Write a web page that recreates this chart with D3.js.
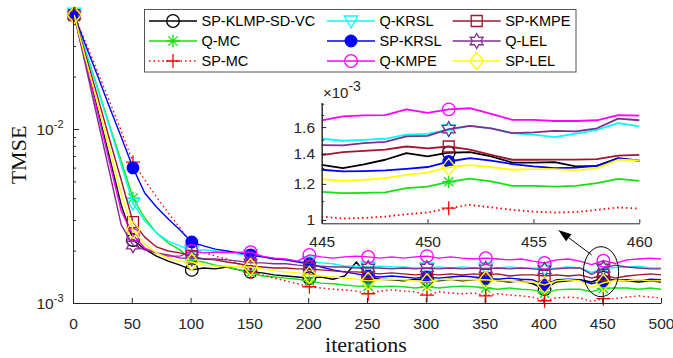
<!DOCTYPE html>
<html><head><meta charset="utf-8">
<script src="https://cdn.jsdelivr.net/npm/d3@7/dist/d3.min.js"></script>
<style>body{margin:0;background:#fff}</style>
</head><body>
<svg id="c" width="673" height="358"></svg>
<script>
// ---------------- DATA (TMSE values in units of 1e-3) ----------------
const iters = [1,11,21,31,41,51,61,71,81,91,101,111,121,131,141,151,161,171,181,191,201,211,221,231,241,251,261,271,281,291,301,311,321,331,341,351,361,371,381,391,401,411,421,431,441,451,461,471,481,491,500];
const markerIters = [1,51,101,151,201,251,301,351,401,451];
const seriesNames = ["SP-KLMP-SD-VC","Q-MC","SP-MC","Q-KRSL","SP-KRSL","Q-KMPE","SP-KMPE","Q-LEL","SP-LEL"];

const tmseSPKLMP = [45.2,24.3,12.9,6.90,3.66,2.30,2.04,1.86,1.74,1.65,
 1.55,1.59,1.57,1.61,1.55,1.51,1.49,1.45,1.43,1.41,
 1.39,1.41,1.37,1.43,1.72,1.41,1.37,1.36,1.34,1.37,
 1.36,1.34,1.37,1.34,1.36,1.39,1.34,1.32,1.34,1.29,
 1.20,1.32,1.34,1.36,1.32,1.405,1.35,1.34,1.32,1.34,1.32];
const tmseQMC = [45.2,27.7,17.2,10.5,6.55,4.01,3.08,2.53,2.21,2.02,
 1.76,1.72,1.65,1.61,1.55,1.49,1.43,1.41,1.39,1.37,
 1.34,1.30,1.29,1.27,1.25,1.25,1.24,1.25,1.24,1.22,
 1.24,1.22,1.24,1.25,1.24,1.22,1.20,1.22,1.20,1.19,
 1.14,1.19,1.20,1.20,1.16,1.213,1.22,1.22,1.20,1.22,1.20];
const tmseSPMC = [45.2,31.2,21.3,14.5,9.74,6.45,5.09,4.07,3.29,2.70,
 2.15,1.96,1.86,1.79,1.68,1.51,1.45,1.39,1.34,1.29,
 1.24,1.22,1.20,1.19,1.17,1.13,1.17,1.19,1.17,1.16,
 1.11,1.16,1.14,1.13,1.14,1.10,1.13,1.11,1.10,1.08,
 1.03,1.07,1.08,1.07,1.02,1.061,1.06,1.08,1.10,1.08,1.07];
const tmseQKRSL = [46.4,27.7,16.8,10.3,6.21,3.75,2.96,2.53,2.27,2.13,
 1.99,2.02,1.99,1.96,1.91,1.89,1.84,1.81,1.77,1.74,
 1.72,1.70,1.68,1.63,1.63,1.61,1.63,1.61,1.61,1.59,
 1.59,1.61,1.59,1.61,1.59,1.59,1.59,1.61,1.59,1.59,
 1.57,1.59,1.61,1.59,1.50,1.578,1.60,1.61,1.63,1.59,1.59];
const tmseSPKRSL = [45.2,30.0,20.2,13.4,8.99,5.98,4.29,3.56,3.04,2.63,
 2.24,2.13,2.04,1.99,1.94,1.89,1.84,1.79,1.77,1.72,
 1.68,1.61,1.55,1.51,1.47,1.43,1.41,1.43,1.41,1.39,
 1.41,1.39,1.41,1.43,1.41,1.39,1.37,1.39,1.37,1.36,
 1.27,1.36,1.37,1.36,1.29,1.344,1.35,1.36,1.34,1.37,1.36];
const tmseQKMPE = [45.2,23.6,12.4,6.45,3.38,2.46,2.07,1.94,1.86,1.86,
 1.99,1.94,1.96,1.94,1.96,1.96,1.86,1.81,1.79,1.74,
 1.89,1.84,1.81,1.84,1.86,1.84,1.81,1.84,1.81,1.84,
 1.86,1.81,1.84,1.81,1.79,1.81,1.79,1.77,1.79,1.74,
 1.70,1.77,1.79,1.74,1.66,1.75,1.69,1.77,1.79,1.81,1.79];
const tmseSPKMPE = [45.2,26.3,15.3,8.76,5.09,2.92,2.39,2.10,1.99,1.94,
 1.86,1.79,1.77,1.72,1.68,1.63,1.61,1.59,1.59,1.57,
 1.57,1.55,1.53,1.51,1.51,1.49,1.47,1.49,1.47,1.45,
 1.47,1.45,1.47,1.45,1.47,1.45,1.47,1.43,1.45,1.45,
 1.43,1.45,1.43,1.45,1.39,1.45,1.39,1.43,1.45,1.47,1.45];
const tmseQLEL = [45.2,22.7,11.3,5.66,2.81,2.15,2.02,1.94,1.89,1.81,
 1.81,1.79,1.79,1.77,1.74,1.70,1.70,1.68,1.68,1.65,
 1.63,1.63,1.61,1.61,1.59,1.59,1.59,1.57,1.59,1.57,
 1.59,1.57,1.59,1.57,1.59,1.57,1.59,1.57,1.59,1.57,
 1.55,1.57,1.59,1.59,1.46,1.584,1.65,1.61,1.59,1.57,1.57];
const tmseSPLEL = [45.2,24.9,13.9,7.67,4.23,2.63,2.18,1.94,1.81,1.74,
 1.72,1.65,1.63,1.63,1.61,1.61,1.57,1.53,1.51,1.49,
 1.45,1.43,1.41,1.39,1.37,1.34,1.36,1.37,1.36,1.34,
 1.32,1.36,1.37,1.36,1.36,1.36,1.34,1.34,1.32,1.32,
 1.27,1.34,1.36,1.34,1.23,1.307,1.35,1.34,1.36,1.34,1.34];

// inset (zoom on iterations 445..460), units of 1e-3
const insetIters = [445,446,447,448,449,450,451,452,453,454,455,456,457,458,459,460];
const insetMarkerIter = 451;
const insSPKLMP = [1.322,1.300,1.325,1.356,1.402,1.379,1.405,1.410,1.379,1.337,1.337,1.340,1.311,1.315,1.367,1.350];
const insQMC    = [1.153,1.145,1.147,1.149,1.174,1.184,1.213,1.233,1.215,1.188,1.188,1.184,1.188,1.205,1.231,1.219];
const insSPMC   = [1.017,1.007,1.010,1.017,1.029,1.038,1.061,1.079,1.066,1.052,1.043,1.038,1.041,1.052,1.065,1.059];
const insQKRSL  = [1.508,1.493,1.500,1.508,1.540,1.545,1.578,1.610,1.590,1.552,1.540,1.520,1.547,1.578,1.633,1.606];
const insSPKRSL = [1.289,1.278,1.280,1.285,1.295,1.307,1.344,1.367,1.350,1.327,1.311,1.300,1.303,1.315,1.363,1.350];
const insQKMPE  = [1.656,1.689,1.698,1.700,1.750,1.720,1.750,1.760,1.710,1.660,1.660,1.650,1.650,1.656,1.700,1.695];
const insSPKMPE = [1.388,1.410,1.418,1.427,1.450,1.436,1.450,1.427,1.390,1.356,1.356,1.357,1.357,1.360,1.384,1.390];
const insQLEL   = [1.460,1.458,1.475,1.485,1.526,1.530,1.584,1.610,1.590,1.552,1.558,1.570,1.565,1.590,1.670,1.656];
const insSPLEL  = [1.229,1.219,1.225,1.235,1.256,1.271,1.307,1.320,1.307,1.289,1.293,1.293,1.285,1.300,1.356,1.352];

const xTicks = [0,50,100,150,200,250,300,350,400,450,500];
const yMajorTicks = [1e-3,1e-2];
const yMajorLabels = [["10","-3"],["10","-2"]];
const yMinorTicks = [2e-3,3e-3,4e-3,5e-3,6e-3,7e-3,8e-3,9e-3,2e-2,3e-2,4e-2,5e-2];
const insetXTicks = [445,450,455,460];
const insetYTicks = [1,1.2,1.4,1.6];
const insetYMinor = [1.1,1.3,1.5,1.7,1.8];
const UNIT = 1e-3;

// annotation (data coordinates of main axes)
const ellipseIters = [434,464], ellipseVals = [1.087e-3, 2.107e-3];
const arrowFrom = [441, 1.89e-3], arrowTo = [412.7, 2.63e-3];

// ---------------- STYLE ----------------
const mainData = [tmseSPKLMP,tmseQMC,tmseSPMC,tmseQKRSL,tmseSPKRSL,tmseQKMPE,tmseSPKMPE,tmseQLEL,tmseSPLEL];
const insetData = [insSPKLMP,insQMC,insSPMC,insQKRSL,insSPKRSL,insQKMPE,insSPKMPE,insQLEL,insSPLEL];
const colors = ["#000000","#16e016","#ff0000","#00ffff","#0000ff","#ff00ff","#a2142f","#7e2f8e","#ffff00"];
const markers = ["circle","asterisk","plus","tridown","dot","circle","square","hexagram","diamond"];
const dashes = [null,null,"1.5,3",null,null,null,null,null,null];
const AX = "#262626";
const SANS = "'Liberation Sans', Arial, Helvetica, sans-serif";
const SERIF = "'Liberation Serif', 'Times New Roman', serif";

const svg = d3.select("#c");
const x = d3.scaleLinear().domain([0,500]).range([73,661]);
const y = d3.scaleLog().domain([1e-3,5e-2]).range([303,7.4]);
const xi = d3.scaleLinear().domain([445,460]).range([321.7,639.3]);
const yi = d3.scaleLog().domain([0.983,1.81]).range([223.3,102.7]);

function markerPath(type){
  const p = d3.path();
  if(type==="circle"){ p.moveTo(6.3,0); p.arc(0,0,6.3,0,2*Math.PI); }
  else if(type==="dot"){ p.moveTo(5.8,0); p.arc(0,0,5.8,0,2*Math.PI); }
  else if(type==="asterisk"){ const s=6.5,d=4.6;
    p.moveTo(-s,0);p.lineTo(s,0);p.moveTo(0,-s);p.lineTo(0,s);
    p.moveTo(-d,-d);p.lineTo(d,d);p.moveTo(-d,d);p.lineTo(d,-d); }
  else if(type==="plus"){ const s=7; p.moveTo(-s,0);p.lineTo(s,0);p.moveTo(0,-s);p.lineTo(0,s); }
  else if(type==="tridown"){ p.moveTo(-6.8,-5);p.lineTo(6.8,-5);p.lineTo(0,7);p.closePath(); }
  else if(type==="square"){ p.rect(-5.5,-5.5,11,11); }
  else if(type==="diamond"){ p.moveTo(0,-8.5);p.lineTo(7,0);p.lineTo(0,8.5);p.lineTo(-7,0);p.closePath(); }
  else if(type==="hexagram"){ const R=7.5,r=4.3;
    for(let k=0;k<12;k++){ const a=-Math.PI/2+k*Math.PI/6, rr=(k%2===0)?R:r;
      const px=rr*Math.cos(a), py=rr*Math.sin(a); if(k===0)p.moveTo(px,py); else p.lineTo(px,py);} p.closePath(); }
  return p.toString();
}
function drawMarker(g, i, cx, cy){
  g.append("path").attr("d", markerPath(markers[i]))
    .attr("transform", `translate(${cx},${cy})`)
    .attr("fill", markers[i]==="dot" ? colors[i] : "none")
    .attr("stroke", colors[i]).attr("stroke-width", 1.3);
}

// ---------------- MAIN AXES ----------------
const main = svg.append("g");
const lineMain = d3.line().x(d=>x(d[0])).y(d=>y(d[1]*UNIT));
seriesNames.forEach((nm,i)=>{
  const pts = iters.map((it,k)=>[it, mainData[i][k]]);
  main.append("path").attr("d", lineMain(pts)).attr("fill","none")
    .attr("stroke", colors[i]).attr("stroke-width", 1.4)
    .attr("stroke-dasharray", dashes[i]).attr("stroke-linejoin","round");
  markerIters.forEach(mi=>{
    const k = iters.indexOf(mi);
    drawMarker(main, i, x(mi), y(mainData[i][k]*UNIT));
  });
});

function styleAxis(g, fs){
  g.selectAll("path.domain").attr("stroke",AX).attr("stroke-width",1);
  g.selectAll(".tick line").attr("stroke",AX).attr("stroke-width",1);
  g.selectAll("text").attr("fill",AX).attr("font-family",SANS).attr("font-size",fs);
}
const gx = svg.append("g").attr("transform","translate(0,303)")
  .call(d3.axisBottom(x).tickValues(xTicks).tickSize(-5).tickSizeOuter(0).tickPadding(14.7));
styleAxis(gx,15.5);
const gyMinor = svg.append("g").attr("transform","translate(73,0)")
  .call(d3.axisLeft(y).tickValues(yMinorTicks).tickSize(-3).tickSizeOuter(0).tickFormat(()=>""));
styleAxis(gyMinor,15);
const gy = svg.append("g").attr("transform","translate(73,0)")
  .call(d3.axisLeft(y).tickValues(yMajorTicks).tickSize(-6).tickSizeOuter(0).tickFormat(()=>""));
styleAxis(gy,15);
yMajorTicks.forEach((v,k)=>{
  const t = svg.append("text").attr("x",63.5).attr("y",y(v)+5.5).attr("text-anchor","end")
    .attr("font-family",SANS).attr("fill",AX).attr("font-size",15.5);
  t.append("tspan").text(yMajorLabels[k][0]);
  t.append("tspan").attr("dy",-6.5).attr("font-size",11).text(yMajorLabels[k][1]);
});

svg.append("text").attr("transform","translate(26,155) rotate(-90)").attr("text-anchor","middle")
  .attr("font-family",SERIF).attr("font-size",22).attr("fill","#111").text("TMSE");
svg.append("text").attr("x",366).attr("y",351.5).attr("text-anchor","middle")
  .attr("font-family",SERIF).attr("font-size",22).attr("fill","#111").text("iterations");

// ---------------- LEGEND ----------------
const lg = svg.append("g");
lg.append("rect").attr("x",144.5).attr("y",9.5).attr("width",431.5).attr("height",62.5)
  .attr("fill","#fff").attr("stroke","#555").attr("stroke-width",1);
const legCols = [149, 327, 452.7];
const legRows = [21, 41, 61];
seriesNames.forEach((nm,i)=>{
  const c = Math.floor(i/3), r = i%3;
  const x0 = legCols[c], yy = legRows[r];
  lg.append("line").attr("x1",x0).attr("x2",x0+48).attr("y1",yy).attr("y2",yy)
    .attr("stroke",colors[i]).attr("stroke-width",1.5).attr("stroke-dasharray",dashes[i]);
  drawMarker(lg, i, x0+24, yy);
  lg.append("text").attr("x",x0+52.5).attr("y",yy+5.3).attr("font-family",SANS)
    .attr("font-size",14.5).attr("fill","#000").text(nm);
});

// ---------------- INSET ----------------
const ins = svg.append("g");
ins.append("rect").attr("x",321.7).attr("y",102.7).attr("width",639.3-321.7).attr("height",223.3-102.7).attr("fill","#fff");
const lineIns = d3.line().x(d=>xi(d[0])).y(d=>yi(d[1]));
seriesNames.forEach((nm,i)=>{
  const pts = insetIters.map((it,k)=>[it, insetData[i][k]]);
  ins.append("path").attr("d", lineIns(pts)).attr("fill","none")
    .attr("stroke", colors[i]).attr("stroke-width", 1.8)
    .attr("stroke-dasharray", dashes[i]).attr("stroke-linejoin","round");
  const k = insetIters.indexOf(insetMarkerIter);
  drawMarker(ins, i, xi(insetMarkerIter), yi(insetData[i][k]));
});
const gxi = svg.append("g").attr("transform","translate(0,223.3)")
  .call(d3.axisBottom(xi).tickValues(insetXTicks).tickSize(-4).tickSizeOuter(0).tickPadding(13.1));
styleAxis(gxi,15.5);
const gyiMinor = svg.append("g").attr("transform","translate(321.7,0)")
  .call(d3.axisLeft(yi).tickValues(insetYMinor).tickSize(-2.5).tickSizeOuter(0).tickFormat(()=>""));
styleAxis(gyiMinor,15);
const gyi = svg.append("g").attr("transform","translate(321.7,0)")
  .call(d3.axisLeft(yi).tickValues(insetYTicks).tickSize(-4.5).tickSizeOuter(0).tickPadding(6.7)
    .tickFormat(d=> d===1 ? "1" : d3.format(".1f")(d)));
styleAxis(gyi,15.5);
const mult = svg.append("text").attr("x",323).attr("y",97.5).attr("font-family",SANS)
  .attr("font-size",15).attr("fill",AX);
mult.append("tspan").text("\u00d710");
mult.append("tspan").attr("dy",-6.5).attr("font-size",14).text("-3");

// ---------------- ANNOTATION ----------------
const ecx = (x(ellipseIters[0])+x(ellipseIters[1]))/2, ecy = (y(ellipseVals[0])+y(ellipseVals[1]))/2;
svg.append("ellipse").attr("cx",ecx).attr("cy",ecy)
  .attr("rx",(x(ellipseIters[1])-x(ellipseIters[0]))/2).attr("ry",(y(ellipseVals[0])-y(ellipseVals[1]))/2)
  .attr("fill","none").attr("stroke","#000").attr("stroke-width",1);
const ax0=x(arrowFrom[0]), ay0=y(arrowFrom[1]), ax1=x(arrowTo[0]), ay1=y(arrowTo[1]);
const ang = Math.atan2(ay1-ay0, ax1-ax0), hl=13, hw=4.5;
const bx = ax1 - hl*Math.cos(ang), by = ay1 - hl*Math.sin(ang);
svg.append("line").attr("x1",ax0).attr("y1",ay0).attr("x2",bx).attr("y2",by).attr("stroke","#000").attr("stroke-width",1);
svg.append("path").attr("d",
  `M${ax1},${ay1}L${bx - hw*Math.sin(ang)},${by + hw*Math.cos(ang)}L${bx + hw*Math.sin(ang)},${by - hw*Math.cos(ang)}Z`)
  .attr("fill","#000");
</script>
</body></html>
